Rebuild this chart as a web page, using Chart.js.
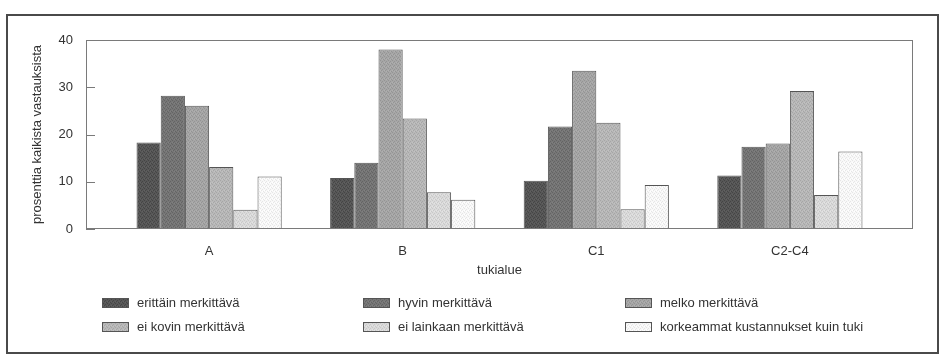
<!DOCTYPE html>
<html>
<head>
<meta charset="utf-8">
<script src="https://cdn.jsdelivr.net/npm/chart.js@4.4.0/dist/chart.umd.min.js"></script>
<style>
  html, body { margin: 0; padding: 0; background: #fff; }
  #wrap { position: relative; width: 943px; height: 355px; overflow: hidden;
          font-family: "Liberation Sans", Arial, sans-serif; color: #333; }
  #frame { position: absolute; left: 6px; top: 14px; width: 933px; height: 340px;
           border: 2px solid #4a4a4a; box-sizing: border-box; }
  #chart { position: absolute; left: 0; top: 0; }
  .item { position: absolute; display: flex; align-items: center; font-size: 13px;
          white-space: nowrap; line-height: 16px; }
  .sw { width: 27px; height: 10px; border: 1px solid #555; box-sizing: border-box;
        margin-right: 8px; }
</style>
</head>
<body>
<div id="wrap">
  <div id="frame"></div>
  <canvas id="chart" width="943" height="355"></canvas>
  <div id="legend"></div>
</div>
<script>
// tukialueet ja vastausten jakauma (% kaikista vastauksista)
const categories = ['A', 'B', 'C1', 'C2-C4'];
const seriesNames = [
  'erittäin merkittävä',
  'hyvin merkittävä',
  'melko merkittävä',
  'ei kovin merkittävä',
  'ei lainkaan merkittävä',
  'korkeammat kustannukset kuin tuki'
];
const erittain   = [18.3, 10.8, 10.2, 11.3];
const hyvin      = [28.2, 14.0, 21.7, 17.4];
const melko      = [26.1, 38.0, 33.5, 18.1];
const eiKovin    = [13.1, 23.4, 22.5, 29.2];
const eiLainkaan = [4.1, 7.8, 4.2, 7.2];
const korkeammat = [11.1, 6.2, 9.3, 16.4];
const yTicks = [0, 10, 20, 30, 40];

const seriesValues = [erittain, hyvin, melko, eiKovin, eiLainkaan, korkeammat];
const baseColors = ['#575757', '#767676', '#a6a6a6', '#b8b8b8', '#dadada', '#f8f8f8'];

// small stippled tile so the fills look like the printed halftone
function stippleTile(hex) {
  const c = document.createElement('canvas');
  c.width = 4; c.height = 4;
  const g = c.getContext('2d');
  g.fillStyle = hex;
  g.fillRect(0, 0, 4, 4);
  const v = parseInt(hex.slice(1, 3), 16);
  const dark = Math.max(0, v - 18), light = Math.min(255, v + 10);
  g.fillStyle = `rgb(${dark},${dark},${dark})`;
  [[0, 0], [2, 1], [1, 2], [3, 3]].forEach(([x, y]) => g.fillRect(x, y, 1, 1));
  g.fillStyle = `rgb(${light},${light},${light})`;
  [[2, 3], [0, 2]].forEach(([x, y]) => g.fillRect(x, y, 1, 1));
  return c;
}

const tiles = baseColors.map(stippleTile);
const ctx = document.getElementById('chart').getContext('2d');
const fills = tiles.map(t => ctx.createPattern(t, 'repeat'));

// extra room on both ends of the category axis
const groupPad = 0.136;

const plotFrame = {
  id: 'plotFrame',
  afterDatasetsDraw(chart) {
    const { ctx, chartArea: a, scales: { y } } = chart;
    ctx.save();
    ctx.strokeStyle = '#7a7a7a';
    ctx.lineWidth = 1;
    ctx.strokeRect(a.left + 0.5, a.top + 0.5, a.width - 1, a.height - 1);
    y.ticks.forEach(t => {
      const py = Math.round(y.getPixelForValue(t.value)) + 0.5;
      ctx.beginPath();
      ctx.moveTo(a.left, py);
      ctx.lineTo(a.left + 9, py);
      ctx.stroke();
    });
    ctx.restore();
  }
};

const font = { family: '"Liberation Sans", Arial, sans-serif', size: 13 };

const chart = new Chart(ctx, {
  type: 'bar',
  data: {
    labels: categories,
    datasets: seriesNames.map((name, i) => ({
      label: name,
      data: seriesValues[i],
      backgroundColor: fills[i],
      borderColor: '#555',
      borderWidth: 1,
      categoryPercentage: 0.75,
      barPercentage: 1.0
    }))
  },
  options: {
    responsive: false,
    animation: false,
    layout: { padding: { left: 26, right: 30, top: 40, bottom: 73 } },
    plugins: {
      legend: { display: false },
      tooltip: { enabled: false }
    },
    scales: {
      x: {
        offset: true,
        grid: { display: false, drawTicks: false },
        border: { display: false },
        ticks: { padding: 15, color: '#333', font, maxRotation: 0 },
        title: { display: true, text: 'tukialue', color: '#333', font, padding: { top: 3, bottom: 4 } },
        afterBuildTicks: scale => {
          scale._startValue -= groupPad;
          scale._valueRange += 2 * groupPad;
        },
        afterFit: scale => { scale.height = 53; }
      },
      y: {
        min: 0,
        max: 40,
        grid: { display: false, drawTicks: false },
        border: { display: false },
        ticks: { padding: 13, color: '#333', font },
        afterBuildTicks: scale => { scale.ticks = yTicks.map(v => ({ value: v })); },
        afterFit: scale => { scale.width = 60; },
        title: { display: true, text: 'prosenttia kaikista vastauksista', color: '#333', font,
                 padding: { top: 4, bottom: 4 } }
      }
    }
  },
  plugins: [plotFrame]
});

// legend: three columns, two rows
const legend = document.getElementById('legend');
const colX = [102, 363, 625];
const rowY = [303, 327];
chart.data.datasets.forEach((ds, i) => {
  const item = document.createElement('div');
  item.className = 'item';
  item.style.left = colX[i % 3] + 'px';
  item.style.top = (rowY[Math.floor(i / 3)] - 8) + 'px';
  const sw = document.createElement('span');
  sw.className = 'sw';
  sw.style.backgroundImage = `url(${tiles[i].toDataURL()})`;
  item.appendChild(sw);
  item.appendChild(document.createTextNode(ds.label));
  legend.appendChild(item);
});
</script>
</body>
</html>
